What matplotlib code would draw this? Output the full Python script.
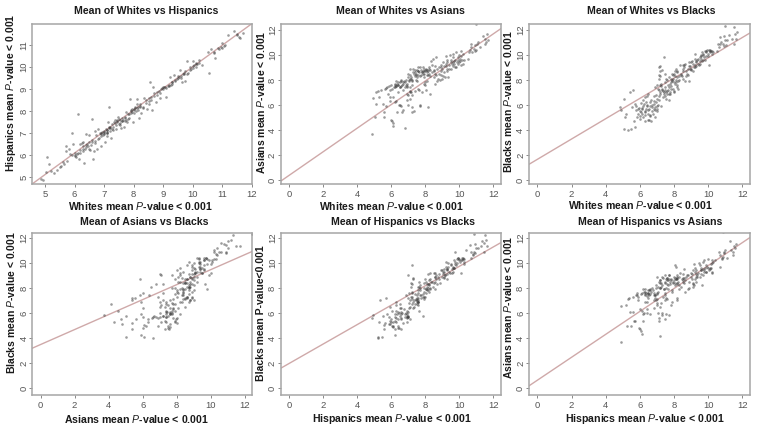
# -*- coding: utf-8 -*-
import numpy as np
from matplotlib import pyplot as plt

plt.rcParams['font.family'] = ['Liberation Sans', 'DejaVu Sans']
plt.rcParams['mathtext.fontset'] = 'custom'
plt.rcParams['mathtext.it'] = 'Liberation Sans:italic'
plt.rcParams['mathtext.rm'] = 'Liberation Sans:bold'

# means per item (same order in all four)
whites = [4.85,4.92,5.05,5.08,5.12,5.2,5.3,5.4,5.5,5.55,
          5.65,5.7,5.72,5.75,5.8,5.85,5.9,5.9,5.95,6.0,
          6.0,6.02,6.05,6.08,6.1,6.12,6.15,6.2,6.2,6.25,
          6.28,6.3,6.3,6.32,6.35,6.38,6.4,6.42,6.45,6.5,
          6.5,6.52,6.55,6.58,6.6,6.62,6.65,6.68,6.7,6.72,
          6.75,6.8,6.82,6.85,6.88,6.9,6.92,6.95,7.0,7.02,
          7.05,7.08,7.1,7.12,7.15,7.18,7.2,7.22,7.25,7.3,
          7.32,7.35,7.38,7.4,7.42,7.45,7.48,7.5,7.52,7.55,
          7.58,7.6,7.62,7.65,7.68,7.7,7.72,7.75,7.78,7.8,
          7.85,7.88,7.9,7.92,7.95,7.98,8.0,8.02,8.05,8.08,
          8.1,8.12,8.15,8.18,8.2,8.22,8.25,8.3,8.35,8.4,
          8.45,8.5,8.5,8.55,8.6,8.62,8.65,8.7,8.75,8.8,
          8.85,8.9,8.92,8.95,9.0,9.02,9.05,9.1,9.15,9.2,
          9.22,9.25,9.28,9.3,9.35,9.4,9.45,9.5,9.52,9.55,
          9.6,9.62,9.65,9.7,9.72,9.75,9.8,9.85,9.9,9.95,
          10.0,10.02,10.05,10.1,10.12,10.15,10.2,10.3,10.5,10.55,
          10.62,10.7,10.75,10.85,10.9,10.95,11.0,11.05,11.2,11.4,11.5,11.55,11.6,11.7,11.5,10.98,
          6.2,6.3,6.4,6.5,6.6,6.7,6.8,6.9,7.0,7.1,
          7.0,7.1,7.15,7.25,7.3,7.4,7.45,7.5,7.55,7.6,
          7.7,7.75,7.8,7.85,7.9,7.95,8.0,8.05,8.1,8.15,
          8.2,8.3,8.4,8.5,8.6,8.7,8.8,8.9,9.0,9.1,
          9.2,9.3,9.4,9.5,9.6,9.7,9.8,9.9,10.0,10.1,
          5.6,7.2,7.0,6.9,7.1,7.2,7.1,10.2,10.7,11.1]
hispanics = [4.92,4.88,5.25,5.92,5.6,5.3,5.2,5.35,5.45,5.5,
             5.6,6.4,6.2,5.75,6.3,6.05,7.0,6.0,6.5,6.1,
             5.95,6.0,5.9,6.05,7.85,6.1,5.85,6.5,6.1,6.55,
             6.3,6.4,6.6,5.65,6.3,6.95,6.35,6.5,6.4,6.9,
             6.3,6.25,6.45,7.65,6.6,5.85,6.2,6.55,7.1,6.9,
             6.3,7.2,6.8,7.0,6.95,6.4,7.05,6.9,7.0,6.6,
             7.2,6.85,7.15,7.5,7.25,8.18,7.1,6.8,7.4,7.3,
             7.5,7.45,7.6,7.2,7.6,7.55,7.75,7.4,7.6,7.35,
             7.25,7.7,7.55,7.6,7.3,7.7,7.55,7.95,7.5,7.65,
             7.85,8.55,7.9,8.0,7.95,7.5,8.1,8.05,8.15,8.0,
             8.55,8.15,8.2,7.7,8.2,8.25,7.9,8.2,8.6,8.5,
             8.1,8.3,8.6,9.3,8.65,8.05,9.1,8.7,8.4,8.75,
             8.9,8.6,9.0,9.05,9.0,9.1,9.1,8.65,9.15,9.2,
             9.55,9.2,9.3,9.3,9.65,9.4,9.45,9.5,9.55,9.85,
             9.6,9.3,9.7,9.7,9.35,9.8,10.25,9.75,9.85,9.9,
             10.25,9.95,10.1,10.0,10.2,10.15,10.2,10.1,10.7,9.75,
             10.8,10.65,10.4,10.85,10.8,10.9,11.1,10.95,11.45,11.65,11.5,11.35,11.3,11.55,11.45,10.85,
             6.25,6.2,6.45,6.6,6.7,6.65,6.75,7.0,6.95,7.05,
             7.1,7.0,7.3,7.2,7.15,7.35,7.5,7.65,7.45,7.55,
             7.75,7.6,7.85,7.7,8.05,8.1,7.9,8.2,8.3,8.05,
             8.3,8.15,8.35,8.45,8.5,8.8,8.85,8.8,9.1,9.05,
             9.15,9.25,9.35,9.6,9.5,9.75,9.7,10.0,10.05,10.15,
             5.7,7.3,7.05,6.85,7.15,7.25,7.0,10.3,10.7,11.0]
asians = [3.7,6.55,5.0,7.0,6.05,7.1,6.6,7.2,6.1,5.0,
          7.3,7.35,5.9,7.4,6.9,7.5,6.6,6.3,7.2,7.6,
          4.8,4.7,7.3,4.55,6.65,4.3,7.4,7.6,6.2,7.45,
          7.5,6.3,7.55,5.4,7.7,7.0,7.6,7.8,6.0,7.4,
          7.4,6.0,7.5,7.9,5.9,7.6,5.4,7.8,5.6,7.2,
          7.9,4.15,7.4,7.6,8.0,6.9,7.7,7.4,6.8,7.95,
          8.0,7.0,8.4,7.4,8.1,7.0,5.4,7.6,7.9,8.9,
          5.55,8.5,7.1,8.6,8.3,8.0,8.5,7.9,8.8,7.3,
          8.4,8.7,7.2,8.6,6.0,9.0,5.9,8.4,7.0,8.6,
          8.7,8.5,7.7,8.9,8.5,7.6,8.7,8.8,7.2,8.6,
          8.8,8.4,8.7,5.85,9.0,8.5,6.9,8.8,9.5,8.6,
          9.65,8.2,8.8,8.5,7.7,9.8,8.4,8.9,8.1,9.0,
          8.0,8.4,9.2,8.7,8.9,8.3,9.4,8.6,8.2,9.3,
          9.1,8.7,8.9,9.4,8.2,9.2,10.0,8.9,9.6,9.3,
          9.4,9.1,10.1,9.5,9.0,9.6,10.2,9.4,9.8,9.3,
          10.0,9.7,9.5,10.3,9.2,9.6,9.3,9.6,9.7,10.2,
          10.4,10.9,10.2,10.5,10.3,10.8,10.4,10.9,10.6,11.5,11.3,11.0,11.7,11.2,10.9,12.45,
          7.7,7.9,7.6,7.8,8.0,7.7,7.8,7.5,8.2,8.1,
          8.5,8.9,8.2,8.0,8.6,8.8,8.4,8.2,9.0,8.7,
          8.3,8.8,8.6,9.0,8.2,8.7,7.8,8.9,7.9,8.4,
          8.9,8.3,9.2,8.7,9.1,7.9,8.5,9.0,8.1,9.1,
          9.9,9.6,8.9,9.4,9.8,9.3,9.0,9.6,9.4,9.9,
          5.4,5.85,6.0,6.4,6.5,6.8,7.1,10.1,10.6,11.0]
blacks = [5.85,5.6,4.1,6.5,5.05,5.3,4.0,7.0,4.1,5.8,
          4.7,6.1,4.25,5.9,5.6,5.0,5.7,5.3,5.75,4.9,
          5.1,5.5,5.4,6.15,5.75,5.3,5.7,6.4,5.0,6.1,
          6.6,5.5,4.75,5.2,6.2,5.7,5.9,6.7,4.8,5.3,
          6.9,5.7,4.8,6.2,5.9,5.1,4.75,6.4,5.5,5.8,
          5.3,6.7,5.7,6.1,5.6,5.0,6.8,6.2,5.7,5.5,
          7.3,6.0,8.4,6.7,7.6,9.1,7.0,5.9,7.5,8.8,
          7.2,7.1,6.6,9.8,6.9,7.8,7.2,6.7,8.1,6.5,
          7.1,8.0,7.6,7.2,6.4,8.2,6.9,7.7,6.9,8.1,
          7.5,8.5,8.0,7.3,8.4,7.0,7.8,8.5,8.3,8.7,
          8.9,7.8,8.2,7.4,8.6,7.9,7.3,8.3,9.2,8.4,
          8.3,9.2,8.9,8.7,9.0,7.9,9.3,8.3,8.5,8.9,
          9.4,7.9,8.9,9.1,9.4,8.8,9.5,8.7,9.0,9.7,
          9.2,10.1,9.1,9.5,9.6,9.3,9.2,9.8,9.5,10.0,
          9.7,9.5,10.2,9.6,10.0,9.8,10.3,9.9,10.3,10.4,
          9.9,10.4,9.2,10.3,10.4,10.35,10.3,10.2,10.35,10.9,
          10.6,11.4,11.0,10.9,10.7,11.5,11.2,10.8,11.6,11.3,12.2,11.7,11.3,11.8,10.9,12.3,
          5.9,5.4,6.0,5.6,5.2,6.0,6.3,5.8,5.9,6.4,
          6.5,7.2,6.9,7.7,7.3,7.0,7.4,8.5,7.0,6.9,
          7.4,7.0,7.3,7.8,7.9,8.1,7.1,7.7,8.0,7.6,
          8.7,8.0,8.5,8.1,9.2,8.7,8.4,9.1,8.9,9.3,
          9.0,9.4,9.7,9.3,9.9,10.1,9.6,10.2,10.1,10.2,
          7.2,8.7,7.6,7.4,8.1,8.3,9.0,10.1,10.9,11.2]

# fit lines read as value at left and right edge of each panel
line_left = [4.7, -0.1, 1.25, 3.2, 1.6, 0.2]
line_right = [11.97, 12.1, 11.75, 10.9, 11.6, 12.0]

titles = ["Mean of Whites vs Hispanics", "Mean of Whites vs Asians", "Mean of Whites vs Blacks",
          "Mean of Asians vs Blacks", "Mean of Hispanics vs Blacks", "Mean of Hispanics vs Asians"]
xlabels = [r"Whites mean $\mathit{P}$-value < 0.001", r"Whites mean $\mathit{P}$-value < 0.001",
           r"Whites mean $\mathit{P}$-value < 0.001", r"Asians mean $\mathit{P}$-value < 0.001",
           r"Hispanics mean $\mathit{P}$-value < 0.001", r"Hispanics mean $\mathit{P}$-value < 0.001"]
ylabels = [r"Hispanics mean $\mathit{P}$-value < 0.001", r"Asians mean $\mathit{P}$-value < 0.001",
           r"Blacks mean $\mathit{P}$-value < 0.001", r"Blacks mean $\mathit{P}$-value < 0.001",
           "Blacks mean P-value<0.001", r"Asians mean $\mathit{P}$-value < 0.001"]
xdata = [whites, whites, whites, asians, hispanics, hispanics]
ydata = [hispanics, asians, blacks, blacks, blacks, asians]

W, H = 763, 433
# pixel boxes: left, right, top, bottom
boxes = [(32.3, 252, 24, 184.3), (280.7, 500.7, 24, 184.3), (529, 749.7, 24, 184.3),
         (32.3, 252, 233.3, 395), (280.7, 500.7, 233.3, 395), (529, 749.7, 233.3, 395)]
title_pos = [(146, 11), (400, 11), (651, 11), (144, 222), (403, 222), (650, 222)]
xlabel_pos = [(140, 206), (391, 206), (640, 205), (136, 419), (392, 419), (645, 419)]
ylabel_pos = [(11, 93), (261, 102), (508, 102), (11, 303), (261, 313), (508, 307)]

fig = plt.figure(figsize=(W / 100, H / 100), dpi=100)
frame_col = "#a6a6a6"

for i in range(6):
    l, r, t, b = boxes[i]
    ax = fig.add_axes([l / W, 1 - b / H, (r - l) / W, (b - t) / H])
    if i == 0:
        xlim = (4.57, 12.0)
        ylim = (4.68, 11.95)
        xt = range(5, 13)
        yt = range(5, 12)
    else:
        xlim = (-0.49, 12.43)
        ylim = (-0.35, 12.48) if i < 3 else (-0.53, 12.35)
        xt = range(0, 13, 2)
        yt = range(0, 13, 2)
    ax.plot(xlim, [line_left[i], line_right[i]], color="#cfa9a9", lw=1.0, zorder=1)
    ax.scatter(xdata[i], ydata[i], s=3.5, color="#3a3a3a", alpha=0.5, linewidths=0, zorder=2)
    ax.set_xlim(xlim)
    ax.set_ylim(ylim)
    ax.set_xticks(list(xt))
    ax.set_yticks(list(yt))
    ax.tick_params(axis="x", length=2.5, width=0.7, color="#888888", labelcolor="#555555",
                   labelsize=6.8, pad=1.5)
    ax.tick_params(axis="y", length=2, width=0.7, color="#888888", labelcolor="#555555",
                   labelsize=6.8, pad=0.8)
    plt.setp(ax.get_yticklabels(), rotation=90, va="center")
    for s in ax.spines.values():
        s.set_color(frame_col)
        s.set_linewidth(1.1)
    fig.text(title_pos[i][0] / W, 1 - title_pos[i][1] / H, titles[i], fontsize=7.6, fontweight="bold",
             ha="center", va="center", color="#1a1a1a")
    fig.text(xlabel_pos[i][0] / W, 1 - xlabel_pos[i][1] / H, xlabels[i], fontsize=7.6, fontweight="bold",
             ha="center", va="center", color="#1a1a1a")
    fig.text(ylabel_pos[i][0] / W, 1 - ylabel_pos[i][1] / H, ylabels[i], fontsize=7.5, fontweight="bold",
             ha="center", va="center", rotation=90, color="#1a1a1a")

plt.savefig("out.png", dpi=100)
